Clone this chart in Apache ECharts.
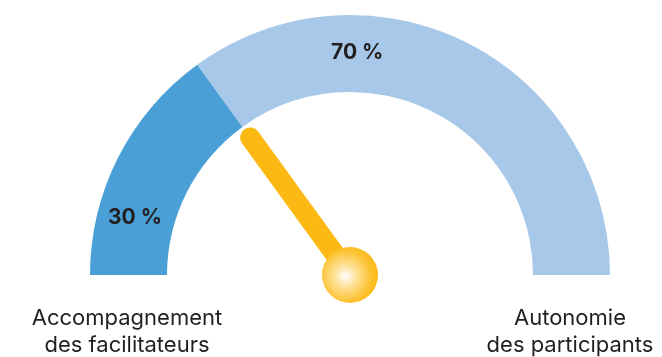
<!DOCTYPE html>
<html>
<head>
<meta charset="utf-8">
<script src="https://cdn.jsdelivr.net/npm/echarts@6/dist/echarts.min.js"></script>
<style>
  html, body { margin: 0; padding: 0; background: #fff; }
  #chart { width: 662px; height: 357px; }
</style>
</head>
<body>
<div id="chart"></div>
<script>
// Share of each side of the gauge (percent)
const segmentNames = ['Accompagnement\ndes facilitateurs', 'Autonomie\ndes participants'];
const segmentValues = [30, 70];
const segmentColors = ['#4a9fd6', '#a7c8e8'];
const needleValue = 30;

const chart = echarts.init(document.getElementById('chart'));

const total = segmentValues.reduce((a, b) => a + b, 0);
const stops = [];
let acc = 0;
segmentValues.forEach((v, i) => {
  acc += v;
  stops.push([acc / total, segmentColors[i]]);
});

const cx = 350, cy = 275, rOuter = 260, rInner = 183;
const font = 'Inter, "Noto Sans", sans-serif';

chart.setOption({
  animation: false,
  series: [{
    type: 'gauge',
    center: [cx, cy],
    radius: rOuter,
    startAngle: 180,
    endAngle: 0,
    min: 0,
    max: total,
    axisLine: { lineStyle: { width: rOuter - rInner, color: stops } },
    splitLine: { show: false },
    axisTick: { show: false },
    axisLabel: { show: false },
    pointer: {
      // bar with a rounded tip
      icon: 'path://M0,1 A1,1 0 0 1 2,1 L2,18 L0,18 Z',
      width: 20,
      length: 180,
      offsetCenter: [0, 0],
      itemStyle: { color: '#fdb913' }
    },
    anchor: {
      show: true,
      showAbove: true,
      size: 56,
      itemStyle: {
        color: {
          type: 'radial', x: 0.42, y: 0.52, r: 0.6,
          colorStops: [
            { offset: 0, color: '#ffffff' },
            { offset: 0.3, color: '#fee3a0' },
            { offset: 0.75, color: '#fdc232' },
            { offset: 1, color: '#fdb913' }
          ]
        }
      }
    },
    title: { show: false },
    detail: { show: false },
    data: [{ value: needleValue }]
  }],
  graphic: [
    {
      type: 'text', left: 108, top: 207, z: 100,
      style: { text: segmentValues[0] + ' %', fontFamily: font, fontSize: 21, fontWeight: 'bold', fill: '#231f20' }
    },
    {
      type: 'text', left: 331, top: 42, z: 100,
      style: { text: segmentValues[1] + ' %', fontFamily: font, fontSize: 21, fontWeight: 'bold', fill: '#231f20' }
    },
    {
      type: 'text', x: 127, y: 305, z: 100,
      style: { text: segmentNames[0], fontFamily: font, fontSize: 22, fill: '#231f20', align: 'center', lineHeight: 27 }
    },
    {
      type: 'text', x: 570, y: 305, z: 100,
      style: { text: segmentNames[1], fontFamily: font, fontSize: 22, fill: '#231f20', align: 'center', lineHeight: 27 }
    }
  ]
});
</script>
</body>
</html>
